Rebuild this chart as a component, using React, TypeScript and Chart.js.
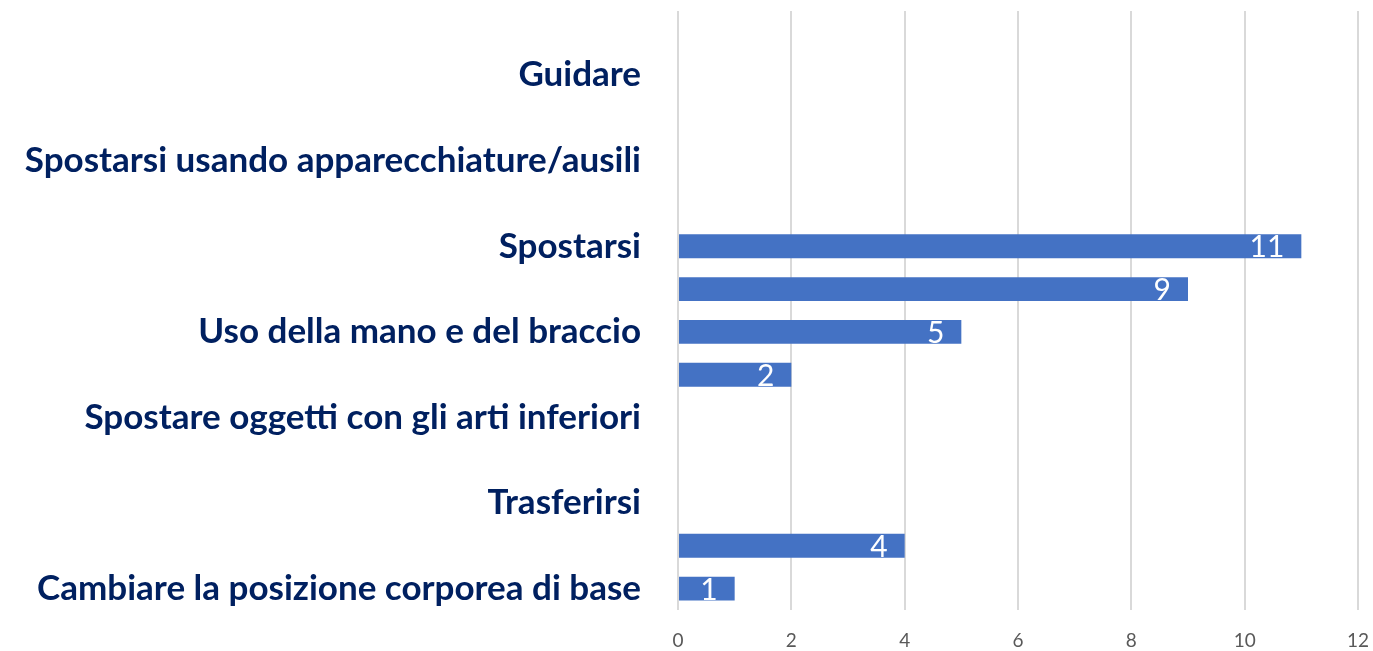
import React, { useEffect, useRef } from "react";
import { Chart, registerables } from "chart.js";

Chart.register(...registerables);

// Categories from top to bottom (ICF d4 Mobility); only alternate ones are labelled in the picture
const categories: string[] = [
  "Cavalcare animali per farsi trasportare",
  "Guidare",
  "Usare un mezzo di trasporto",
  "Spostarsi usando apparecchiature/ausili",
  "Spostarsi in diverse collocazioni",
  "Spostarsi",
  "Camminare",
  "Uso della mano e del braccio",
  "Uso fine della mano",
  "Spostare oggetti con gli arti inferiori",
  "Sollevare e trasportare oggetti",
  "Trasferirsi",
  "Mantenere una posizione corporea",
  "Cambiare la posizione corporea di base",
];
const counts: number[] = [0, 0, 0, 0, 0, 11, 9, 5, 2, 0, 0, 0, 4, 1];
const xTicks: number[] = [0, 2, 4, 6, 8, 10, 12];

const valueLabels = {
  id: "valueLabels",
  afterDatasetsDraw(chart: any) {
    const ctx = chart.ctx;
    const meta = chart.getDatasetMeta(0);
    ctx.save();
    ctx.fillStyle = "#FFFFFF";
    ctx.font = "30px Lato";
    ctx.textAlign = "right";
    ctx.textBaseline = "alphabetic";
    meta.data.forEach((bar: any, i: number) => {
      const v = counts[i];
      if (!v) return;
      ctx.fillText(String(v), bar.x - 17, bar.y + 11);
    });
    ctx.restore();
  },
};

export default function App() {
  const ref = useRef<HTMLCanvasElement | null>(null);
  useEffect(() => {
    if (!ref.current) return;
    const chart = new Chart(ref.current, {
      type: "bar",
      data: {
        labels: categories,
        datasets: [
          {
            data: counts,
            backgroundColor: "#4472C4",
            borderWidth: 0,
            barPercentage: 0.56,
            categoryPercentage: 1,
          },
        ],
      },
      options: {
        indexAxis: "y",
        animation: false,
        responsive: false,
        maintainAspectRatio: false,
        layout: { padding: { top: 11, right: 15, left: 0, bottom: 0 } },
        plugins: {
          legend: { display: false },
          tooltip: { enabled: false },
        },
        scales: {
          x: {
            min: 0,
            max: 12,
            afterBuildTicks: (scale: any) => {
              scale.ticks = xTicks.map((v) => ({ value: v }));
            },
            grid: { color: "#D9D9D9", lineWidth: 2, drawTicks: false },
            border: { display: false },
            afterFit: (scale: any) => {
              scale.height = 41;
              scale.paddingLeft = 0;
              scale.paddingRight = 0;
            },
            ticks: {
              color: "#595959",
              font: { family: "Lato", size: 19 },
              padding: 19,
            },
          },
          y: {
            grid: { display: false, drawTicks: false },
            border: { display: false },
            afterFit: (scale: any) => {
              scale.width = 678;
              scale.paddingTop = 0;
              scale.paddingBottom = 0;
            },
            ticks: {
              color: "#002060",
              font: { family: "Lato", size: 35, weight: "bold" },
              padding: 37,
              autoSkip: false,
              callback: (_v: any, index: number) =>
                (categories.length - 1 - index) % 2 === 0 ? categories[index] : "",
            },
          },
        },
      },
      plugins: [valueLabels],
    });
    return () => chart.destroy();
  }, []);
  return (
    <div style={{ position: "fixed", left: 0, top: 0, width: 1373, height: 651, background: "#fff" }}>
      <canvas ref={ref} width={1373} height={651} style={{ display: "block" }} />
    </div>
  );
}
